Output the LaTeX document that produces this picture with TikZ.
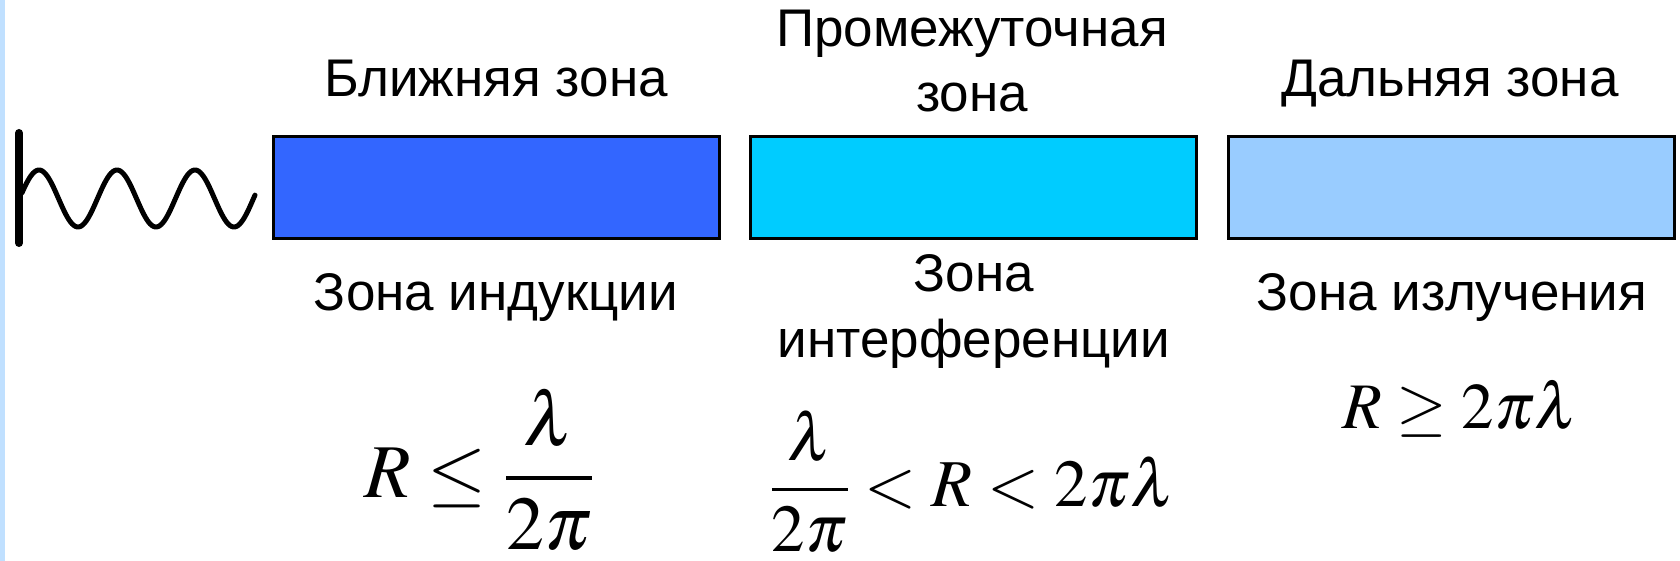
\documentclass[tikz,border=0pt]{standalone}
\usepackage{mathptmx}
\usepackage[no-math]{fontspec}
\setmainfont{Liberation Sans}
\definecolor{zoneA}{HTML}{3366FF}
\definecolor{zoneB}{HTML}{00CCFF}
\definecolor{zoneC}{HTML}{99CCFF}
\definecolor{edgebar}{HTML}{C0E0FF}
\tikzset{
  zonebox/.style={draw=black, line width=1.5pt, minimum width=223pt, minimum height=51pt, inner sep=0pt},
  label/.style={font=\fontsize{26.5}{32.5}\selectfont, align=center, anchor=base, inner sep=0pt},
  formula/.style={inner sep=0pt},
  wave/.style={line width=2.5pt, line cap=round, line join=round},
}
\begin{document}
\begin{tikzpicture}[x=0.5pt, y=-0.5pt]
\useasboundingbox (0,0) rectangle (1680,561);
\fill[edgebar] (0,0) rectangle (5,561);
% antenna
\coordinate (antTop) at (19,133);
\coordinate (antBot) at (19,243);
\draw[line width=4pt, line cap=round] (antTop) -- (antBot);
\draw[wave] plot[domain=22:255, samples=150, smooth] (\x, {198.5-28.5*cos((\x-39)*4.61538)});
% zones
\node[zonebox, fill=zoneA] (z1) at (496.5,188) {};
\node[zonebox, fill=zoneB] (z2) at (973,188) {};
\node[zonebox, fill=zoneC] (z3) at (1451,188) {};
% titles
\node[label] (t1) at (496,97) {Ближняя зона};
\node[label] (t2) at (972,112) {Промежуточная\\зона};
\node[label] (t3) at (1450,97) {Дальняя зона};
% lower names
\node[label] (n1) at (496,310) {Зона индукции};
\node[label] (n2) at (974,357) {Зона\\интерференции};
\node[label] (n3) at (1452,310) {Зона излучения};
% formulas
\node[formula, anchor=base west] (f1) at (364,497) {\fontsize{38}{45}\selectfont $\displaystyle R\le\frac{\lambda}{2\pi}$};
\node[formula, anchor=base west] (f2) at (769,506) {\fontsize{33.5}{42}\selectfont $\displaystyle \frac{\lambda}{2\pi}<R<2\pi\lambda$};
\node[formula, anchor=base west] (f3) at (1342,428) {\fontsize{32.5}{40}\selectfont $R\ge 2\pi\lambda$};
\end{tikzpicture}
\end{document}
